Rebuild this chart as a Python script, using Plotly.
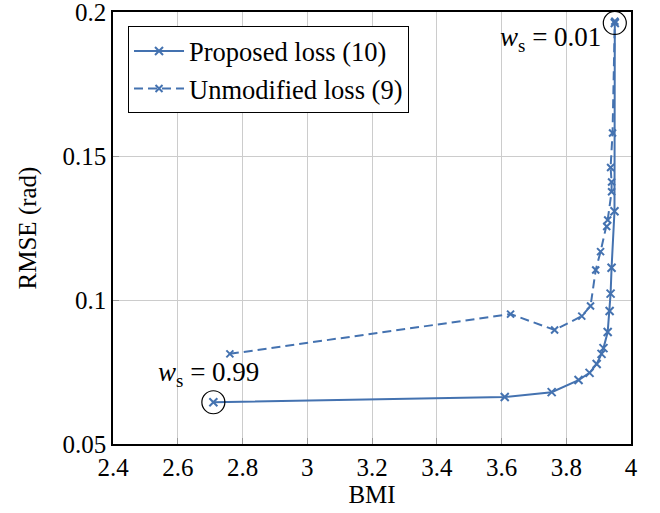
import plotly.graph_objects as go

# Proposed loss (10)
prop_bmi = [2.71, 3.61, 3.755, 3.838, 3.872, 3.894, 3.909, 3.915, 3.928, 3.934, 3.937, 3.940, 3.949, 3.950]
prop_rmse = [0.0645, 0.0663, 0.0680, 0.0722, 0.0747, 0.0778, 0.0813, 0.0833, 0.0889, 0.0962, 0.1022, 0.1112, 0.1308, 0.1962]

# Unmodified loss (9)
unmod_bmi = [2.761, 3.628, 3.764, 3.848, 3.875, 3.891, 3.906, 3.925, 3.928, 3.940, 3.940, 3.937, 3.943, 3.950]
unmod_rmse = [0.0813, 0.0951, 0.0896, 0.0944, 0.0979, 0.1104, 0.1168, 0.1255, 0.1278, 0.1376, 0.1410, 0.1460, 0.1580, 0.1968]

x_ticks = [2.4, 2.6, 2.8, 3.0, 3.2, 3.4, 3.6, 3.8, 4.0]
x_labels = ["2.4", "2.6", "2.8", "3", "3.2", "3.4", "3.6", "3.8", "4"]
y_ticks = [0.05, 0.1, 0.15, 0.2]
y_labels = ["0.05", "0.1", "0.15", "0.2"]

color = "#4472b0"
font = "Liberation Serif, DejaVu Serif, Times New Roman, serif"

fig = go.Figure()
fig.add_trace(go.Scatter(
    x=prop_bmi, y=prop_rmse, mode="lines+markers", name="Proposed loss (10)",
    line=dict(color=color, width=2),
    marker=dict(symbol="x-thin", size=8, line=dict(color=color, width=2)),
))
fig.add_trace(go.Scatter(
    x=unmod_bmi, y=unmod_rmse, mode="lines+markers", name="Unmodified loss (9)",
    line=dict(color=color, width=2, dash="9px,5px"),
    marker=dict(symbol="x-thin", size=7, line=dict(color=color, width=2)),
))

# circles around extreme points
for (cx, cy) in [(prop_bmi[0], prop_rmse[0]), (prop_bmi[-1], prop_rmse[-1])]:
    fig.add_shape(type="circle", xref="x", yref="y", xsizemode="pixel", ysizemode="pixel",
                  xanchor=cx, yanchor=cy, x0=-11.5, x1=11.5, y0=-11.5, y1=11.5,
                  line=dict(color="black", width=1.2))

fig.add_annotation(x=prop_bmi[-1], y=prop_rmse[-1], xref="x", yref="y",
                   text="<i>w</i><sub>s</sub> = 0.01", showarrow=False,
                   xanchor="right", yanchor="middle", xshift=-12, yshift=-16,
                   font=dict(family=font, size=27, color="black"))
fig.add_annotation(x=prop_bmi[0], y=prop_rmse[0], xref="x", yref="y",
                   text="<i>w</i><sub>s</sub> = 0.99", showarrow=False,
                   xanchor="center", yanchor="bottom", xshift=-5, yshift=9,
                   font=dict(family=font, size=27, color="black"))

axis_common = dict(
    showgrid=True, gridcolor="#cccccc", gridwidth=1,
    showline=True, linecolor="black", linewidth=1.5, mirror=True,
    ticks="inside", ticklen=6, tickcolor="#999999",
    zeroline=False, automargin=False, ticklabeloverflow="allow",
    tickfont=dict(family=font, size=25, color="black"),
)

fig.update_layout(
    width=660, height=513,
    margin=dict(l=113, r=29, t=12, b=69),
    paper_bgcolor="white", plot_bgcolor="white",
    font=dict(family=font, color="black"),
    xaxis=dict(range=[2.4, 4.0], tickvals=x_ticks, ticktext=x_labels,
               title=dict(text="BMI", font=dict(family=font, size=25), standoff=4),
               **axis_common),
    yaxis=dict(range=[0.05, 0.2], tickvals=y_ticks, ticktext=y_labels,
               title=dict(text="RMSE (rad)", font=dict(family=font, size=25), standoff=19),
               **axis_common),
    legend=dict(x=0.029, y=0.967, xanchor="left", yanchor="top",
                bgcolor="white", bordercolor="black", borderwidth=1,
                font=dict(family=font, size=26.5, color="black"),
                tracegroupgap=0, itemwidth=50),
    showlegend=True,
)

fig.write_html("out.html", config={"displayModeBar": False},
               post_script="document.body.style.margin='0';")
